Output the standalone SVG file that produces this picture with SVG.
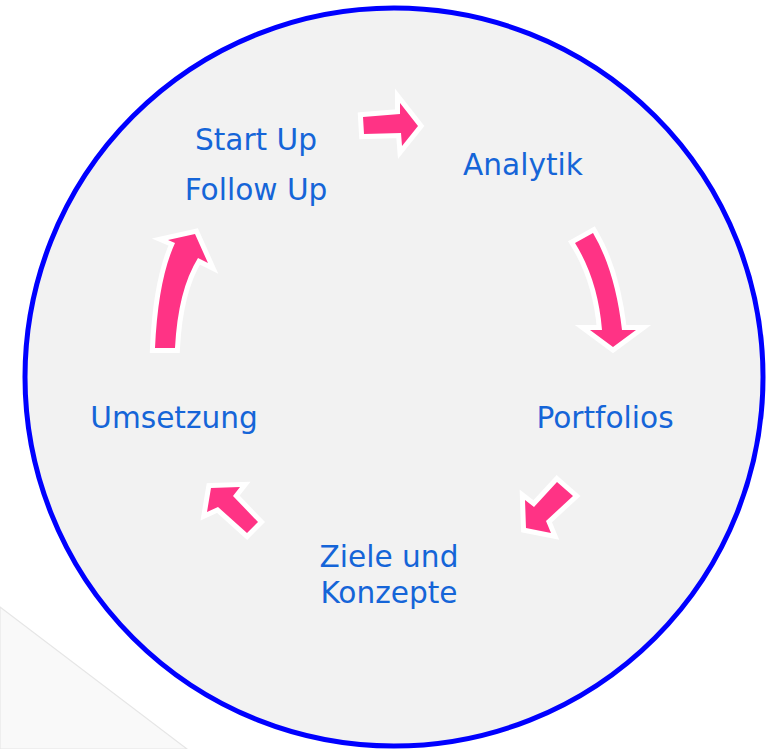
<svg xmlns="http://www.w3.org/2000/svg" width="768" height="749" viewBox="0 0 768 749">
<defs>
<style>
.lbl{font-family:"DejaVu Sans","Liberation Sans",sans-serif;font-size:29.6px;fill:#1565d8;text-anchor:middle}
.arr{fill:#ff3385;stroke:#ffffff;stroke-width:10;stroke-linejoin:miter;paint-order:stroke}
</style>
</defs>
<rect width="768" height="749" fill="#ffffff"/>
<path d="M0 607 L187 749 L0 749 Z" fill="#f9f9f9" stroke="#e6e6e6" stroke-width="1.2"/>
<g id="cycle">
<circle cx="394" cy="377" r="369" fill="#f2f2f2" stroke="#0000ff" stroke-width="5"/>
</g>
<g id="connectors">
<path class="arr" d="M363 117 L400 114 L400 103 L418 126 L402 146 L401 133 L364 134 Z"/>
<path class="arr" d="M575 243 L593 233 Q615 270 622 330 L636 330 L613 347 L590 330 L602 330 Q598 280 575 243 Z"/>
<path class="arr" d="M557 482 L573 496 L546 521 L551 533 L526 528 L525 500 L534 507 Z"/>
<path class="arr" d="M211 488 L240 487 L233 496 L258 522 L247 533 L218 507 L207 512 Z"/>
<path class="arr" d="M155 348 Q158 280 175 243 L168 240 L195 234 L208 263 L198 258 Q178 290 175 348 Z"/>
</g>
<g id="node-startup"><text class="lbl" x="256" y="150">Start Up</text><text class="lbl" x="256" y="200">Follow Up</text></g>
<g id="node-analytik"><text class="lbl" x="523" y="175">Analytik</text></g>
<g id="node-portfolios"><text class="lbl" x="605" y="428">Portfolios</text></g>
<g id="node-ziele"><text class="lbl" x="389" y="567">Ziele und</text><text class="lbl" x="389" y="603">Konzepte</text></g>
<g id="node-umsetzung"><text class="lbl" x="174" y="428">Umsetzung</text></g>
</svg>
